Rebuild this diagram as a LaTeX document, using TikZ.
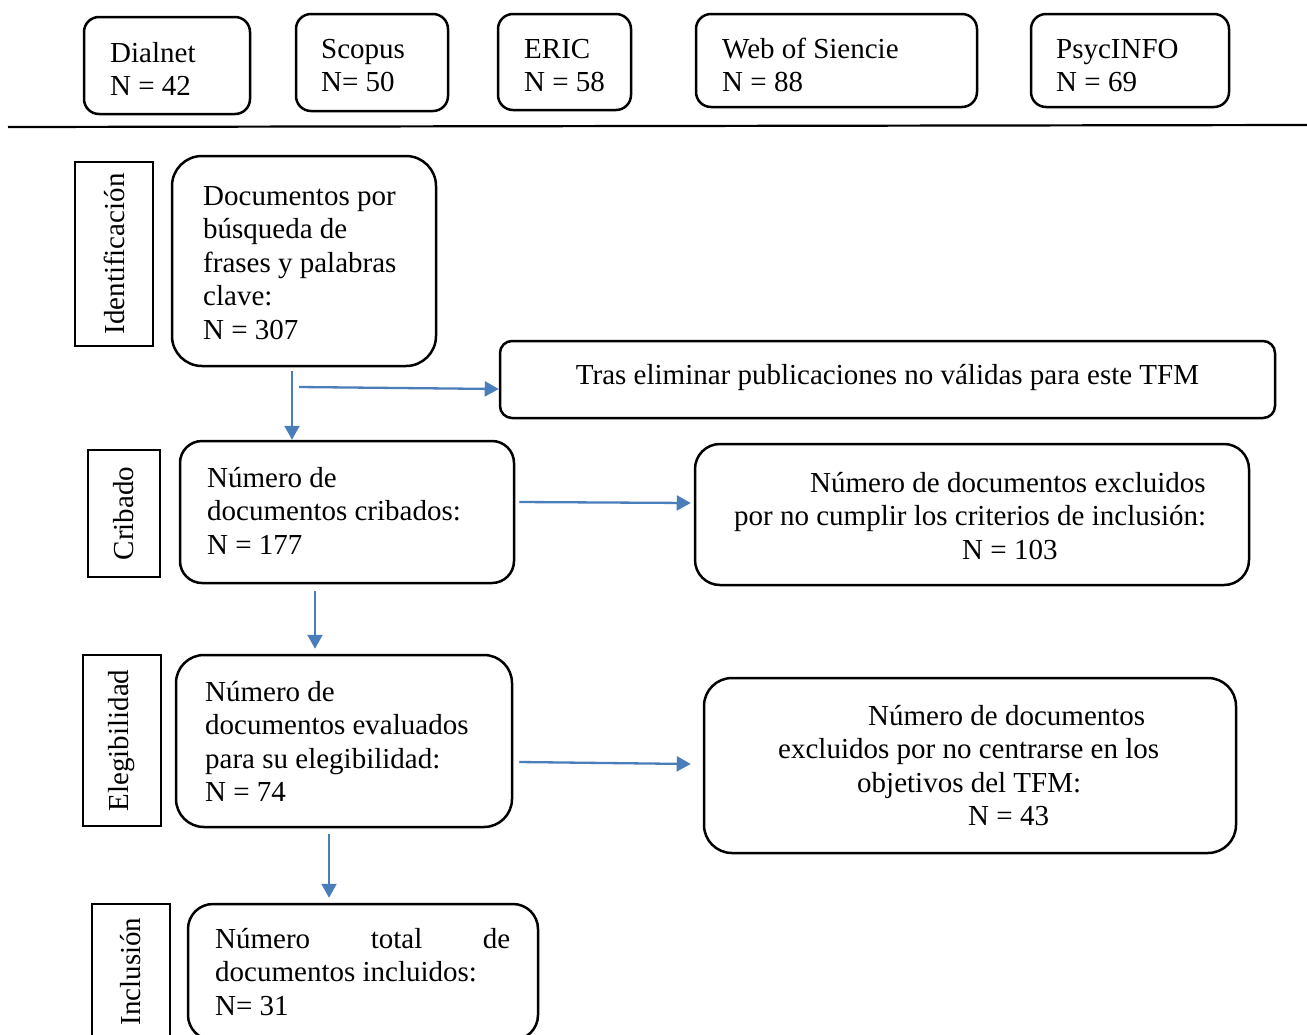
\documentclass[tikz,border=0pt]{standalone}
\usepackage{fontspec}
\setmainfont{Liberation Serif}
\usetikzlibrary{arrows.meta,calc}
\definecolor{arrblue}{HTML}{4A7EBB}
\tikzset{
  rbox/.style={draw=black, line width=2.5pt, rounded corners=#1, inner sep=0pt},
  rbox/.default=15pt,
  txt/.style={inner sep=0pt, anchor=north west, align=left, yshift=23.45pt,
    font=\fontsize{29}{33.5}\selectfont},
  lbl/.style={draw=black, line width=1.4pt, inner sep=0pt, rotate=90,
    font=\fontsize{29}{33.5}\selectfont},
  arr/.style={draw=arrblue, line width=2.3pt, -{Triangle[length=14pt,width=15pt]}},
}
\begin{document}
\begin{tikzpicture}[x=1pt,y=-1pt]
\clip (0,0) rectangle (1307,1034);
\fill[white] (0,0) rectangle (1307,1034);

% top databases
\node[rbox, minimum width=166pt, minimum height=97pt] (dialnet) at (167,65.5) {};
\node[txt] (tdialnet) at (110,62) {\strut Dialnet\\N = 42};
\node[rbox, minimum width=152pt, minimum height=97pt] (scopus) at (372,62.5) {};
\node[txt] (tscopus) at (321,58) {\strut Scopus\\N= 50};
\node[rbox, minimum width=133pt, minimum height=96pt] (eric) at (564.5,62) {};
\node[txt] (teric) at (524,58) {\strut ERIC\\N = 58};
\node[rbox, minimum width=281pt, minimum height=93pt] (wos) at (836.5,60.5) {};
\node[txt] (twos) at (722,58) {\strut Web of Siencie\\N = 88};
\node[rbox, minimum width=198pt, minimum height=93pt] (psyc) at (1130,60.5) {};
\node[txt] (tpsyc) at (1056,58) {\strut PsycINFO\\N = 69};

\draw[line width=2.2pt] (8,127) -- (1307,125);

% stage labels
\node[lbl, minimum width=184pt, minimum height=78pt] (lid) at (114,254) {Identificación};
\node[lbl, minimum width=127pt, minimum height=72pt] (lcri) at (124,513.5) {Cribado};
\node[lbl, minimum width=171pt, minimum height=78pt] (lele) at (122,740.5) {Elegibilidad};
\node[lbl, minimum width=135pt, minimum height=78pt] (linc) at (131,971.5) {Inclusión};

% main boxes
\node[rbox=30pt, minimum width=264pt, minimum height=210pt] (b1) at (304,261) {};
\node[txt] (t1) at (203,205) {\strut Documentos por\\búsqueda de\\frases y palabras\\clave:\\N = 307};

\node[rbox=12pt, minimum width=775pt, minimum height=77pt] (tras) at (887.5,379.5) {};
\node[inner sep=0pt, anchor=base, font=\fontsize{29}{33.5}\selectfont] (ttras) at (887.5,384) {Tras eliminar publicaciones no válidas para este TFM};

\node[rbox=22pt, minimum width=334pt, minimum height=142pt] (b2) at (347,512) {};
\node[txt] (t2) at (207,487) {\strut Número de\\documentos cribados:\\N = 177};

\node[rbox=25pt, minimum width=554pt, minimum height=141pt] (b3) at (972,514.5) {};
\node[txt] (t3) at (734,492) {\strut\hspace*{76pt}Número de documentos excluidos\\por no cumplir los criterios de inclusión:\\\hspace*{228pt}N = 103};

\node[rbox=28pt, minimum width=336pt, minimum height=172pt] (b4) at (344,741) {};
\node[txt] (t4) at (205,701) {\strut Número de\\documentos evaluados\\para su elegibilidad:\\N = 74};

\node[rbox=28pt, minimum width=532pt, minimum height=175pt] (b5) at (970,765.5) {};
\node[txt] (t5) at (778,725) {\strut\hspace*{90pt}Número de documentos\\excluidos por no centrarse en los\\\hspace*{79pt}objetivos del TFM:\\\hspace*{190pt}N = 43};

\node[rbox=25pt, minimum width=350pt, minimum height=136pt] (b6) at (363,972) {};
\node[txt] (t6) at (215,948) {\strut\makebox[295pt][s]{Número\hfill total\hfill de}\\documentos incluidos:\\N= 31};

% connectors
\coordinate (c1) at (292,371);
\draw[arr] (c1) -- (c1 |- b2.north);
\coordinate (c2) at (299,387);
\draw[arr] (c2) -- ([yshift=-9.5pt]tras.west);
\draw[arr] ([xshift=4pt,yshift=10pt]b2.east) -- ([xshift=-3pt,yshift=11.5pt]b3.west);
\coordinate (c3) at (315,591);
\draw[arr] (c3) -- ([yshift=5pt]c3 |- b4.north);
\draw[arr] ([xshift=6pt,yshift=-21pt]b4.east) -- ([xshift=-12pt,yshift=1.5pt]b5.west);
\coordinate (c4) at (329,834);
\draw[arr] (c4) -- ([yshift=5pt]c4 |- b6.north);
\end{tikzpicture}
\end{document}
